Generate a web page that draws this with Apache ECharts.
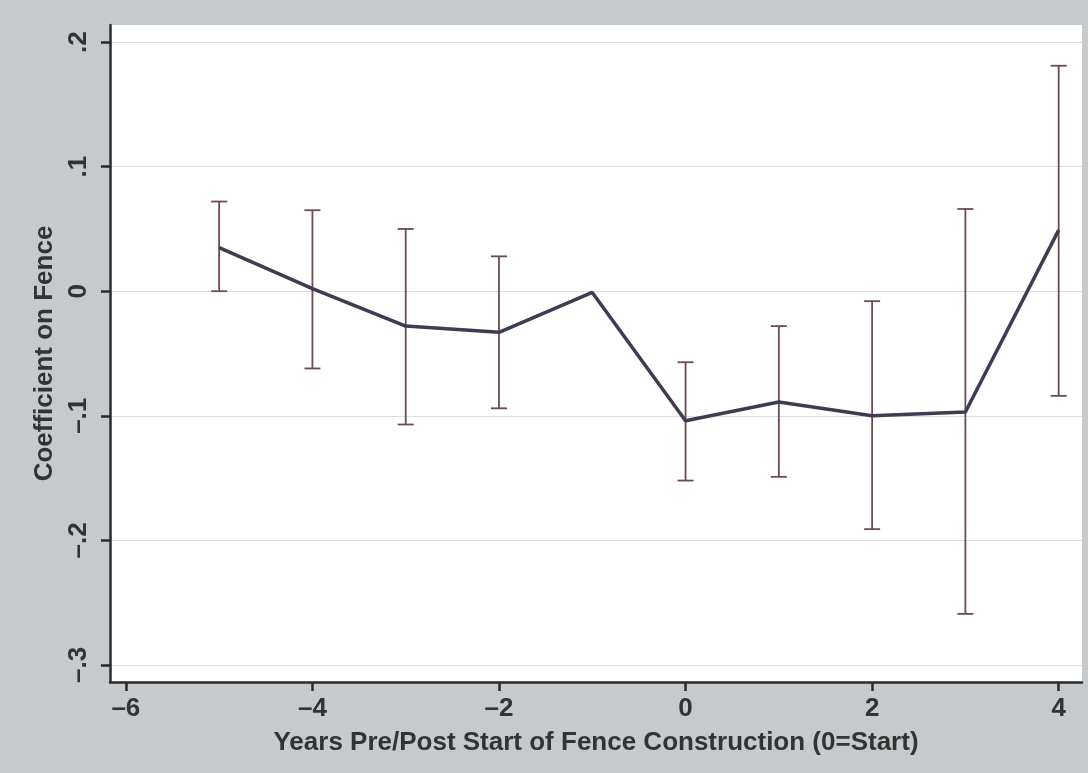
<!DOCTYPE html>
<html>
<head>
<meta charset="utf-8">
<script src="https://cdn.jsdelivr.net/npm/echarts@6/dist/echarts.min.js"></script>
<style>
html, body { margin: 0; padding: 0; background: #c7cacd; }
#main { width: 1088px; height: 773px; }
</style>
</head>
<body>
<div id="main"></div>
<script>
// years relative to fence start, point estimates and 95% CI bounds
var years = [-5, -4, -3, -2, -1, 0, 1, 2, 3, 4];
var coef = [0.035, 0.002, -0.028, -0.033, -0.001, -0.104, -0.089, -0.100, -0.097, 0.049];
var ciUpper = [0.072, 0.065, 0.050, 0.028, null, -0.057, -0.028, -0.008, 0.066, 0.181];
var ciLower = [0.000, -0.062, -0.107, -0.094, null, -0.152, -0.149, -0.191, -0.259, -0.084];
var xTicks = [-6, -4, -2, 0, 2, 4];
var yTicks = [-0.3, -0.2, -0.1, 0, 0.1, 0.2];
var yTickText = { '-0.3': '\u2013.3', '-0.2': '\u2013.2', '-0.1': '\u2013.1', '0': '0', '0.1': '.1', '0.2': '.2' };

var chart = echarts.init(document.getElementById('main'));

var lineData = years.map(function (y, i) { return [y, coef[i]]; });
var barData = [];
years.forEach(function (y, i) {
    if (ciUpper[i] !== null) barData.push([y, ciLower[i], ciUpper[i]]);
});

var labelFont = 'Liberation Sans, Arial, sans-serif';

option = {
    backgroundColor: '#c7cacd',
    animation: false,
    grid: {
        left: 110, right: 6, top: 25, bottom: 91,
        show: true, backgroundColor: '#ffffff', borderWidth: 0
    },
    xAxis: {
        type: 'value',
        min: -6.17, max: 4.25,
        name: 'Years Pre/Post Start of Fence Construction (0=Start)',
        nameLocation: 'middle',
        nameGap: 48,
        nameTextStyle: { fontFamily: labelFont, fontWeight: 'bold', fontSize: 26, color: '#333' },
        axisLine: { onZero: false, lineStyle: { color: '#2b2b2b', width: 2.5 } },
        axisTick: { length: 9, lineStyle: { color: '#2b2b2b', width: 2.5 }, customValues: xTicks },
        axisLabel: {
            customValues: xTicks, margin: 14,
            fontFamily: labelFont, fontWeight: 'bold', fontSize: 26, color: '#333',
            formatter: function (v) { return v < 0 ? '\u2013' + (-v) : '' + v; }
        },
        splitLine: { show: false }
    },
    yAxis: {
        type: 'value',
        min: -0.3137, max: 0.2137,
        name: 'Coefficient on Fence',
        nameLocation: 'middle',
        nameGap: 52,
        nameTextStyle: { fontFamily: labelFont, fontWeight: 'bold', fontSize: 26, color: '#333' },
        axisLine: { onZero: false, lineStyle: { color: '#2b2b2b', width: 2.5 } },
        axisTick: { length: 9, lineStyle: { color: '#2b2b2b', width: 2.5 }, customValues: yTicks },
        axisLabel: {
            customValues: yTicks, rotate: 90, margin: 18,
            fontFamily: labelFont, fontWeight: 'bold', fontSize: 26, color: '#333',
            formatter: function (v) { return yTickText[String(Math.round(v * 10) / 10)]; }
        },
        splitLine: { show: true, lineStyle: { color: '#dcdee0', width: 1 } }
    },
    series: [
        {
            type: 'custom',
            data: barData,
            z: 2,
            renderItem: function (params, api) {
                var x = api.value(0);
                var lo = api.coord([x, api.value(1)]);
                var hi = api.coord([x, api.value(2)]);
                var cap = 8;
                var style = { stroke: '#6d4b4f', lineWidth: 1.8 };
                return {
                    type: 'group',
                    children: [
                        { type: 'line', shape: { x1: lo[0], y1: lo[1], x2: hi[0], y2: hi[1] }, style: style },
                        { type: 'line', shape: { x1: lo[0] - cap, y1: lo[1], x2: lo[0] + cap, y2: lo[1] }, style: style },
                        { type: 'line', shape: { x1: hi[0] - cap, y1: hi[1], x2: hi[0] + cap, y2: hi[1] }, style: style }
                    ]
                };
            }
        },
        {
            type: 'line',
            data: lineData,
            z: 3,
            symbol: 'none',
            lineStyle: { color: '#3b3d52', width: 3.5 }
        }
    ]
};

chart.setOption(option);
</script>
</body>
</html>
